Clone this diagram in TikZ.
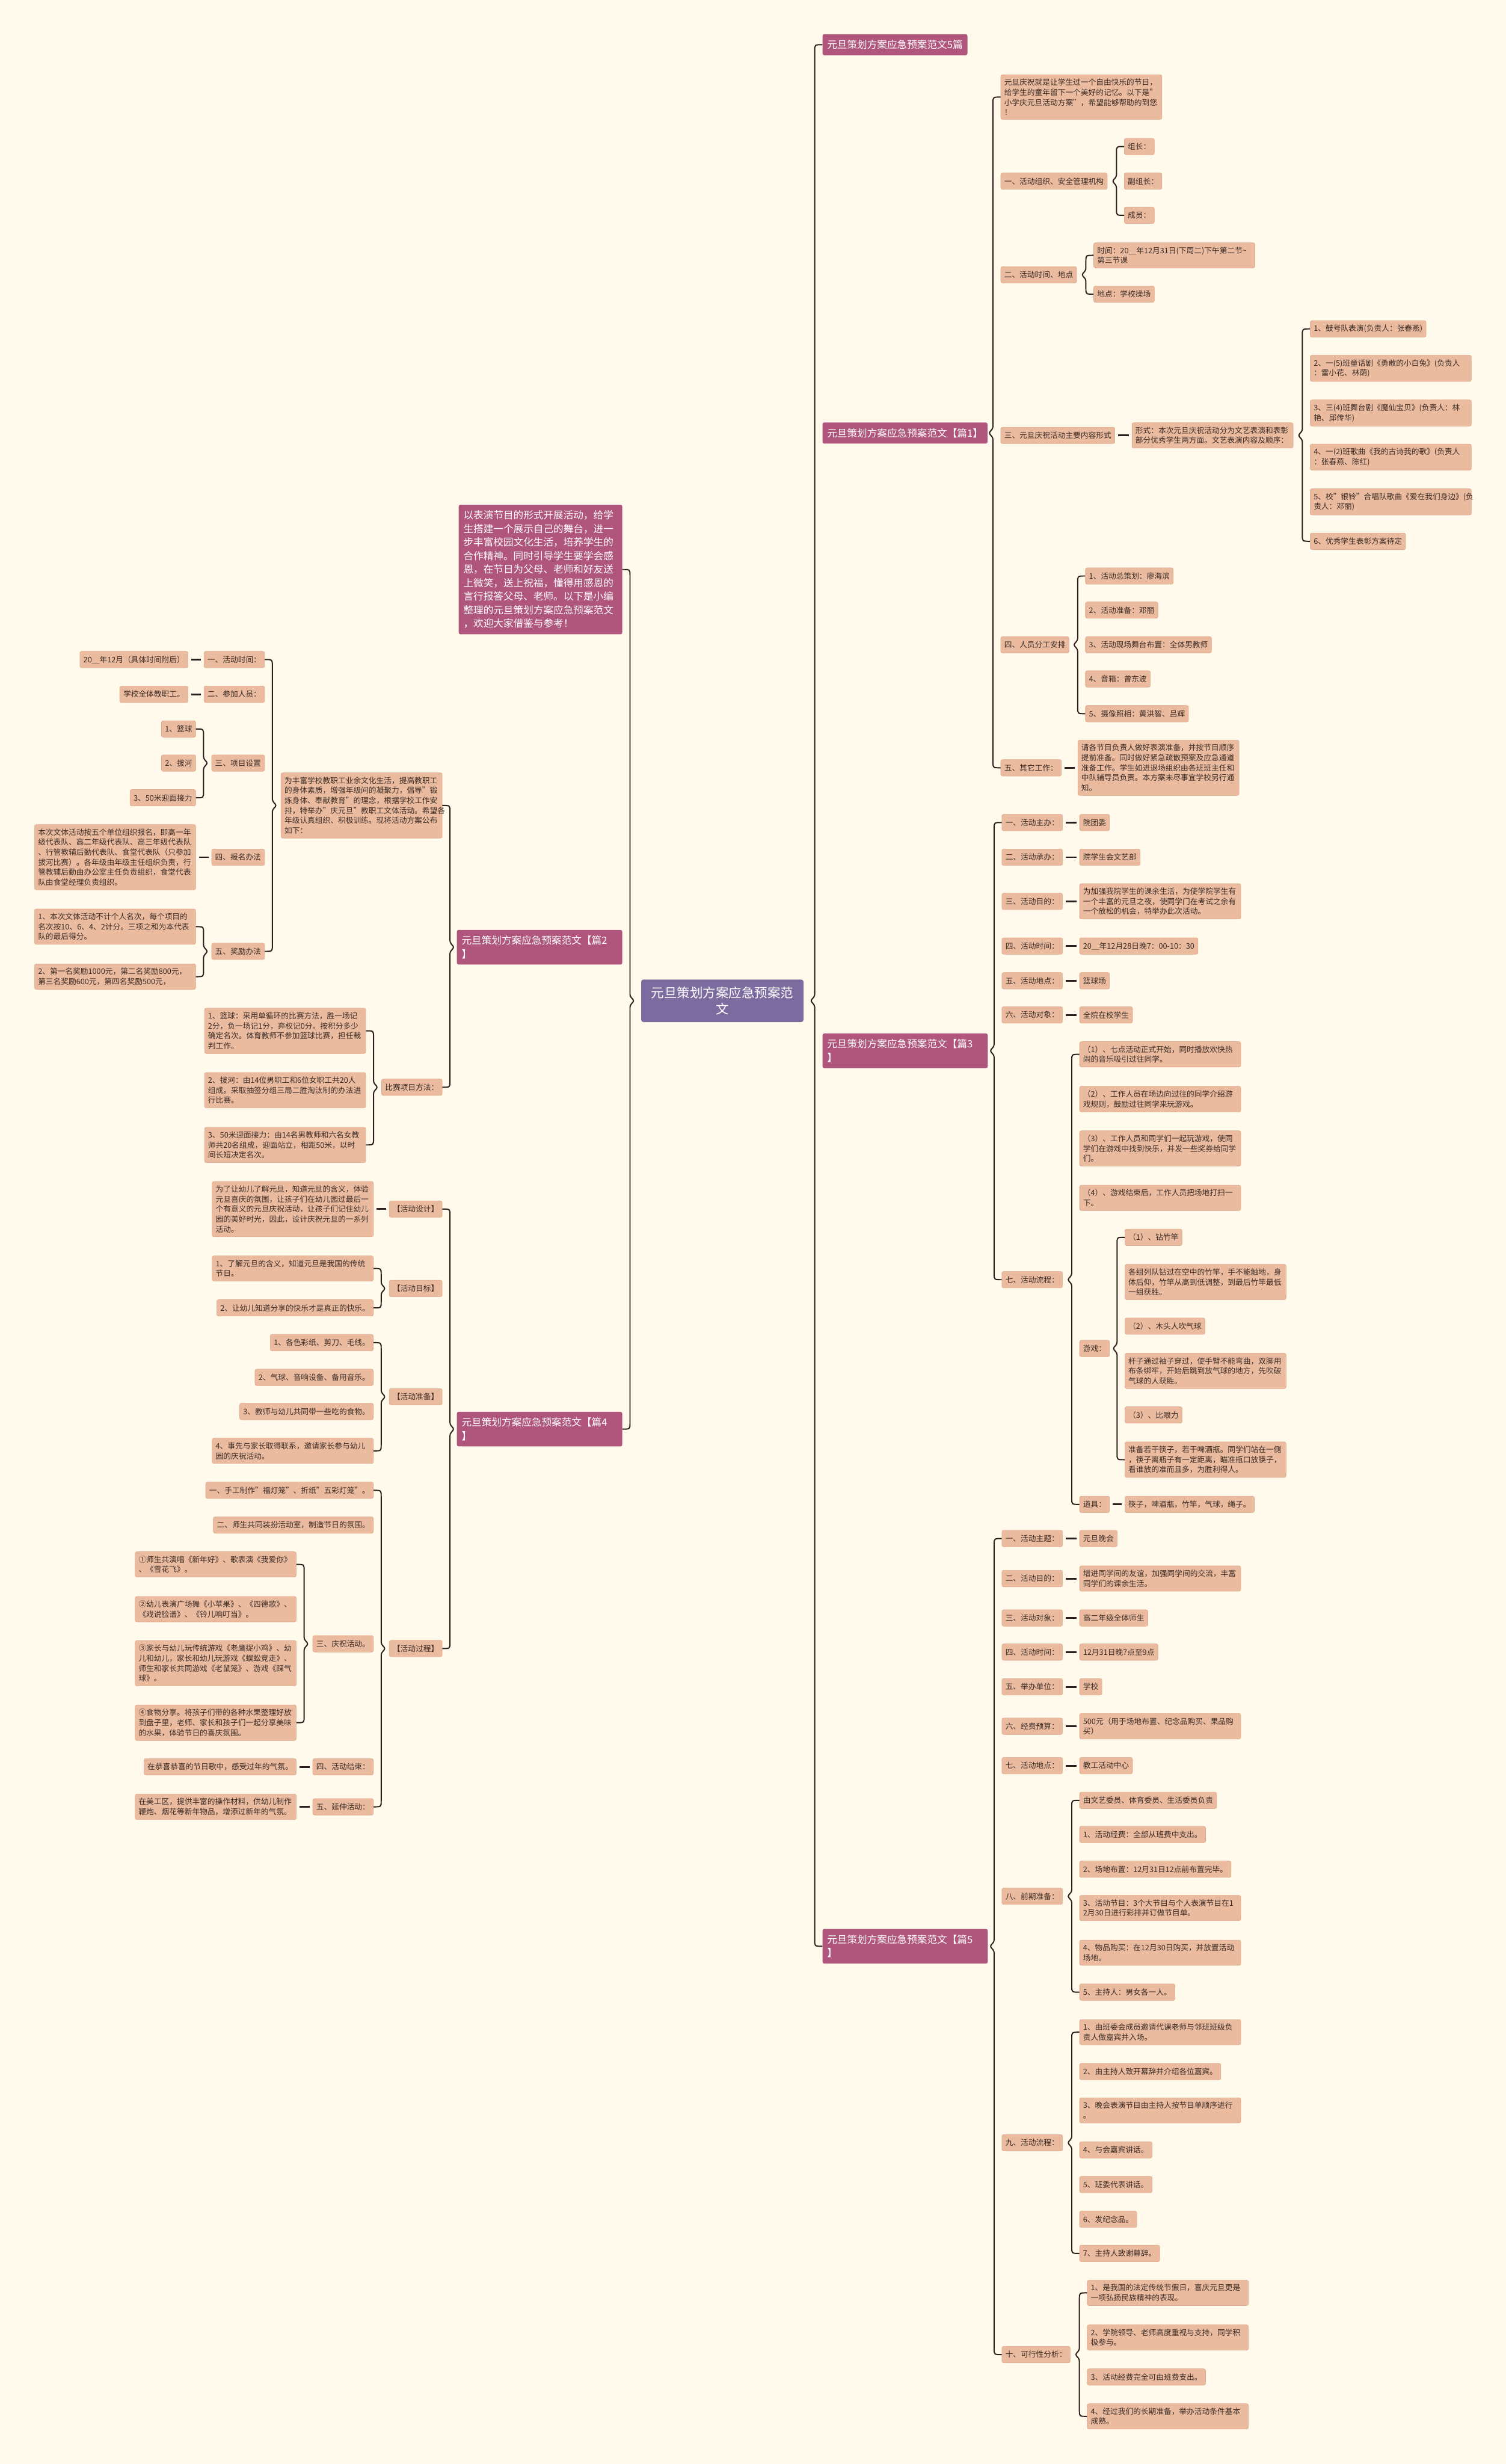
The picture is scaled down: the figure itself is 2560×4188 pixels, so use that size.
\documentclass[tikz,border=0pt]{standalone}
\usepackage{fontspec}
\setmainfont{Noto Sans CJK SC}
\usetikzlibrary{calc}
\definecolor{Cream}{HTML}{FFFAEB}
\definecolor{Peach}{HTML}{EBBBA0}
\definecolor{PeachEdge}{HTML}{E0A98B}
\definecolor{Mauve}{HTML}{B0557C}
\definecolor{Plum}{HTML}{7B6B9E}
\definecolor{Ink}{HTML}{2D1E1E}
\definecolor{Words}{HTML}{3A2C25}
\newcommand{\bracer}[3]{%
  \draw[link] (#2.west) .. controls ($(#2.west)+(-13,0)$) .. ($(#2.west)+(-13,13)$)
    -- ($(#2.west|-#1.east)+(-13,-8)$) -- ($(#2.west|-#1.east)+(-20,0)$)
    -- ($(#2.west|-#1.east)+(-13,8)$) -- ($(#3.west)+(-13,-13)$)
    .. controls ($(#3.west)+(-13,0)$) .. (#3.west);}
\newcommand{\bracel}[3]{%
  \draw[link] (#2.east) .. controls ($(#2.east)+(13,0)$) .. ($(#2.east)+(13,13)$)
    -- ($(#2.east|-#1.west)+(13,-8)$) -- ($(#2.east|-#1.west)+(20,0)$)
    -- ($(#2.east|-#1.west)+(13,8)$) -- ($(#3.east)+(13,-13)$)
    .. controls ($(#3.east)+(13,0)$) .. (#3.east);}

\begin{document}
\begin{tikzpicture}[x=1pt,y=-1pt,
  hub/.style={rounded corners=4pt,fill=Plum,text=white,font=\fontsize{22}{28}\selectfont,align=center,inner xsep=17pt,inner ysep=12pt},
  part/.style={rounded corners=3pt,fill=Mauve,text=white,font=\fontsize{17}{23}\selectfont,align=left,inner xsep=8pt,inner ysep=10pt},
  leaf/.style={rounded corners=3pt,fill=Peach,draw=PeachEdge,line width=0.6pt,text=Words,font=\fontsize{13}{17}\selectfont,align=left,inner xsep=6pt,inner ysep=7pt,minimum height=28pt},
  wrap/.style={text width=262pt},
  rgt/.style={anchor=west},
  lft/.style={anchor=east},
  link/.style={draw=Ink,line width=2pt,rounded corners=3pt},
  tick/.style={draw=Ink,line width=3pt,shorten <=5pt,shorten >=5pt}
]
\fill[Cream] (0,0) rectangle (2560,4188);

\node[hub] (root) at (1228,1701) {元旦策划方案应急预案范\\文};

\node[part,rgt] (p5t) at (1398,76) {元旦策划方案应急预案范文5篇};
\node[part,rgt] (p1) at (1398,736) {元旦策划方案应急预案范文【篇1】};
\node[part,rgt,text width=265pt] (p3) at (1398,1786) {元旦策划方案应急预案范文【篇3\\】};
\node[part,rgt,text width=265pt] (p5) at (1398,3308) {元旦策划方案应急预案范文【篇5\\】};
\node[part,lft,text width=262pt] (intro) at (1058,968) {以表演节目的形式开展活动，给学\\生搭建一个展示自己的舞台，进一\\步丰富校园文化生活，培养学生的\\合作精神。同时引导学生要学会感\\恩，在节日为父母、老师和好友送\\上微笑，送上祝福，懂得用感恩的\\言行报答父母、老师。以下是小编\\整理的元旦策划方案应急预案范文\\，欢迎大家借鉴与参考！};
\node[part,lft,text width=265pt] (p2) at (1058,1610) {元旦策划方案应急预案范文【篇2\\】};
\node[part,lft,text width=265pt] (p4) at (1058,2429) {元旦策划方案应急预案范文【篇4\\】};

\node[leaf,rgt,wrap] (p1intro) at (1701,165) {元旦庆祝就是让学生过一个自由快乐的节日，\\给学生的童年留下一个美好的记忆。以下是"\\小学庆元旦活动方案"，希望能够帮助的到您\\！};
\node[leaf,rgt] (p1org) at (1701,308) {一、活动组织、安全管理机构};
\node[leaf,rgt] (p1lead) at (1911,249) {组长：};
\node[leaf,rgt] (p1vice) at (1911,308) {副组长：};
\node[leaf,rgt] (p1crew) at (1911,366) {成员：};
\node[leaf,rgt] (p1when) at (1701,467) {二、活动时间、地点};
\node[leaf,rgt,wrap] (p1date) at (1859,434) {时间：20＿年12月31日(下周二)下午第二节\textasciitilde\\第三节课};
\node[leaf,rgt] (p1site) at (1859,500) {地点：学校操场};
\node[leaf,rgt] (p1form) at (1701,740) {三、元旦庆祝活动主要内容形式};
\node[leaf,rgt,wrap] (p1style) at (1924,740) {形式：本次元旦庆祝活动分为文艺表演和表彰\\部分优秀学生两方面。文艺表演内容及顺序：};
\node[leaf,rgt] (p1show1) at (2227,559) {1、鼓号队表演(负责人：张春燕)};
\node[leaf,rgt,wrap] (p1show2) at (2227,626) {2、一(5)班童话剧《勇敢的小白兔》(负责人\\：雷小花、林荫)};
\node[leaf,rgt,wrap] (p1show3) at (2227,702) {3、三(4)班舞台剧《魔仙宝贝》(负责人：林\\艳、邱传华)};
\node[leaf,rgt,wrap] (p1show4) at (2227,777) {4、一(2)班歌曲《我的古诗我的歌》(负责人\\：张春燕、陈红)};
\node[leaf,rgt,wrap] (p1show5) at (2227,853) {5、校"银铃"合唱队歌曲《爱在我们身边》(负\\责人：邓丽)};
\node[leaf,rgt] (p1show6) at (2227,920) {6、优秀学生表彰方案待定};
\node[leaf,rgt] (p1staff) at (1701,1096) {四、人员分工安排};
\node[leaf,rgt] (p1job1) at (1845,979) {1、活动总策划：廖海滨};
\node[leaf,rgt] (p1job2) at (1845,1037) {2、活动准备：邓丽};
\node[leaf,rgt] (p1job3) at (1845,1096) {3、活动现场舞台布置：全体男教师};
\node[leaf,rgt] (p1job4) at (1845,1154) {4、音箱：曾东波};
\node[leaf,rgt] (p1job5) at (1845,1213) {5、摄像照相：黄洪智、吕辉};
\node[leaf,rgt] (p1else) at (1701,1305) {五、其它工作：};
\node[leaf,rgt,wrap] (p1note) at (1832,1305) {请各节目负责人做好表演准备，并按节目顺序\\提前准备。同时做好紧急疏散预案及应急通道\\准备工作。学生如进退场组织由各班班主任和\\中队辅导员负责。本方案未尽事宜学校另行通\\知。};

\node[leaf,rgt] (p3host) at (1703,1398) {一、活动主办：};
\node[leaf,rgt] (p3hostv) at (1835,1398) {院团委};
\node[leaf,rgt] (p3org) at (1703,1457) {二、活动承办：};
\node[leaf,rgt] (p3orgv) at (1835,1457) {院学生会文艺部};
\node[leaf,rgt] (p3aim) at (1703,1532) {三、活动目的：};
\node[leaf,rgt,wrap] (p3aimv) at (1835,1532) {为加强我院学生的课余生活，为使学院学生有\\一个丰富的元旦之夜，使同学门在考试之余有\\一个放松的机会，特举办此次活动。};
\node[leaf,rgt] (p3time) at (1703,1608) {四、活动时间：};
\node[leaf,rgt] (p3timev) at (1835,1608) {20＿年12月28日晚7：00-10：30};
\node[leaf,rgt] (p3site) at (1703,1667) {五、活动地点：};
\node[leaf,rgt] (p3sitev) at (1835,1667) {篮球场};
\node[leaf,rgt] (p3who) at (1703,1725) {六、活动对象：};
\node[leaf,rgt] (p3whov) at (1835,1725) {全院在校学生};
\node[leaf,rgt] (p3flow) at (1703,2175) {七、活动流程：};
\node[leaf,rgt,wrap] (p3step1) at (1835,1792) {（1）、七点活动正式开始，同时播放欢快热\\闹的音乐吸引过往同学。};
\node[leaf,rgt,wrap] (p3step2) at (1835,1868) {（2）、工作人员在场边向过往的同学介绍游\\戏规则，鼓励过往同学来玩游戏。};
\node[leaf,rgt,wrap] (p3step3) at (1835,1952) {（3）、工作人员和同学们一起玩游戏，使同\\学们在游戏中找到快乐，并发一些奖券给同学\\们。};
\node[leaf,rgt,wrap] (p3step4) at (1835,2036) {（4）、游戏结束后，工作人员把场地打扫一\\下。};
\node[leaf,rgt] (p3game) at (1835,2292) {游戏：};
\node[leaf,rgt] (p3g1) at (1912,2103) {（1）、钻竹竿};
\node[leaf,rgt,wrap] (p3g1v) at (1912,2179) {各组列队钻过在空中的竹竿，手不能触地，身\\体后仰，竹竿从高到低调整，到最后竹竿最低\\一组获胜。};
\node[leaf,rgt] (p3g2) at (1912,2254) {（2）、木头人吹气球};
\node[leaf,rgt,wrap] (p3g2v) at (1912,2330) {杆子通过袖子穿过，使手臂不能弯曲，双脚用\\布条绑牢，开始后跳到放气球的地方，先吹破\\气球的人获胜。};
\node[leaf,rgt] (p3g3) at (1912,2405) {（3）、比眼力};
\node[leaf,rgt,wrap] (p3g3v) at (1912,2481) {准备若干筷子，若干啤酒瓶。同学们站在一侧\\，筷子离瓶子有一定距离，瞄准瓶口放筷子，\\看谁放的准而且多，为胜利得人。};
\node[leaf,rgt] (p3tool) at (1835,2557) {道具：};
\node[leaf,rgt] (p3toolv) at (1912,2557) {筷子，啤酒瓶，竹竿，气球，绳子。};

\node[leaf,rgt] (p5theme) at (1703,2615) {一、活动主题：};
\node[leaf,rgt] (p5themev) at (1835,2615) {元旦晚会};
\node[leaf,rgt] (p5aim) at (1703,2683) {二、活动目的：};
\node[leaf,rgt,wrap] (p5aimv) at (1835,2683) {增进同学间的友谊，加强同学间的交流，丰富\\同学们的课余生活。};
\node[leaf,rgt] (p5who) at (1703,2750) {三、活动对象：};
\node[leaf,rgt] (p5whov) at (1835,2750) {高二年级全体师生};
\node[leaf,rgt] (p5time) at (1703,2808) {四、活动时间：};
\node[leaf,rgt] (p5timev) at (1835,2808) {12月31日晚7点至9点};
\node[leaf,rgt] (p5unit) at (1703,2867) {五、举办单位：};
\node[leaf,rgt] (p5unitv) at (1835,2867) {学校};
\node[leaf,rgt] (p5cost) at (1703,2934) {六、经费预算：};
\node[leaf,rgt,wrap] (p5costv) at (1835,2934) {500元（用于场地布置、纪念品购买、果品购\\买）};
\node[leaf,rgt] (p5site) at (1703,3001) {七、活动地点：};
\node[leaf,rgt] (p5sitev) at (1835,3001) {教工活动中心};
\node[leaf,rgt] (p5prep) at (1703,3223) {八、前期准备：};
\node[leaf,rgt] (p5prep0) at (1835,3060) {由文艺委员、体育委员、生活委员负责};
\node[leaf,rgt] (p5prep1) at (1835,3118) {1、活动经费：全部从班费中支出。};
\node[leaf,rgt] (p5prep2) at (1835,3177) {2、场地布置：12月31日12点前布置完毕。};
\node[leaf,rgt,wrap] (p5prep3) at (1835,3243) {3、活动节目：3个大节目与个人表演节目在1\\2月30日进行彩排并订做节目单。};
\node[leaf,rgt,wrap] (p5prep4) at (1835,3319) {4、物品购买：在12月30日购买，并放置活动\\场地。};
\node[leaf,rgt] (p5prep5) at (1835,3386) {5、主持人：男女各一人。};
\node[leaf,rgt] (p5flow) at (1703,3642) {九、活动流程：};
\node[leaf,rgt,wrap] (p5flow1) at (1835,3454) {1、由班委会成员邀请代课老师与邻班班级负\\责人做嘉宾并入场。};
\node[leaf,rgt] (p5flow2) at (1835,3521) {2、由主持人致开幕辞并介绍各位嘉宾。};
\node[leaf,rgt,wrap] (p5flow3) at (1835,3587) {3、晚会表演节目由主持人按节目单顺序进行\\。};
\node[leaf,rgt] (p5flow4) at (1835,3654) {4、与会嘉宾讲话。};
\node[leaf,rgt] (p5flow5) at (1835,3713) {5、班委代表讲话。};
\node[leaf,rgt] (p5flow6) at (1835,3772) {6、发纪念品。};
\node[leaf,rgt] (p5flow7) at (1835,3830) {7、主持人致谢幕辞。};
\node[leaf,rgt] (p5can) at (1703,4002) {十、可行性分析：};
\node[leaf,rgt,wrap] (p5can1) at (1848,3897) {1、是我国的法定传统节假日，喜庆元旦更是\\一项弘扬民族精神的表现。};
\node[leaf,rgt,wrap] (p5can2) at (1848,3973) {2、学院领导、老师高度重视与支持，同学积\\极参与。};
\node[leaf,rgt] (p5can3) at (1848,4040) {3、活动经费完全可由班费支出。};
\node[leaf,rgt,wrap] (p5can4) at (1848,4107) {4、经过我们的长期准备，举办活动条件基本\\成熟。};

\node[leaf,lft,wrap] (p2intro) at (752,1369) {为丰富学校教职工业余文化生活，提高教职工\\的身体素质，增强年级间的凝聚力，倡导"锻\\炼身体、奉献教育"的理念，根据学校工作安\\排，特举办"庆元旦"教职工文体活动。希望各\\年级认真组织、积极训练。现将活动方案公布\\如下：};
\node[leaf,lft] (p2time) at (450,1121) {一、活动时间：};
\node[leaf,lft] (p2timev) at (320,1121) {20＿年12月（具体时间附后）};
\node[leaf,lft] (p2who) at (450,1180) {二、参加人员：};
\node[leaf,lft] (p2whov) at (320,1180) {学校全体教职工。};
\node[leaf,lft] (p2item) at (450,1297) {三、项目设置};
\node[leaf,lft] (p2item1) at (333,1239) {1、篮球};
\node[leaf,lft] (p2item2) at (333,1297) {2、拔河};
\node[leaf,lft] (p2item3) at (333,1356) {3、50米迎面接力};
\node[leaf,lft] (p2sign) at (450,1457) {四、报名办法};
\node[leaf,lft,wrap] (p2signv) at (333,1457) {本次文体活动按五个单位组织报名，即高一年\\级代表队、高二年级代表队、高三年级代表队\\、行管教辅后勤代表队、食堂代表队（只参加\\拔河比赛）。各年级由年级主任组织负责，行\\管教辅后勤由办公室主任负责组织，食堂代表\\队由食堂经理负责组织。};
\node[leaf,lft] (p2prize) at (450,1617) {五、奖励办法};
\node[leaf,lft,wrap] (p2prize1) at (333,1575) {1、本次文体活动不计个人名次，每个项目的\\名次按10、6、4、2计分。三项之和为本代表\\队的最后得分。};
\node[leaf,lft,wrap] (p2prize2) at (333,1660) {2、第一名奖励1000元，第二名奖励800元，\\第三名奖励600元，第四名奖励500元，};
\node[leaf,lft] (p2rule) at (752,1848) {比赛项目方法：};
\node[leaf,lft,wrap] (p2rule1) at (622,1752) {1、篮球：采用单循环的比赛方法，胜一场记\\2分，负一场记1分，弃权记0分。按积分多少\\确定名次。体育教师不参加篮球比赛，担任裁\\判工作。};
\node[leaf,lft,wrap] (p2rule2) at (622,1853) {2、拔河：由14位男职工和6位女职工共20人\\组成。采取抽签分组三局二胜淘汰制的办法进\\行比赛。};
\node[leaf,lft,wrap] (p2rule3) at (622,1946) {3、50米迎面接力：由14名男教师和六名女教\\师共20名组成，迎面站立，相距50米，以时\\间长短决定名次。};

\node[leaf,lft] (p4plan) at (752,2055) {【活动设计】};
\node[leaf,lft,wrap] (p4planv) at (635,2055) {为了让幼儿了解元旦，知道元旦的含义，体验\\元旦喜庆的氛围，让孩子们在幼儿园过最后一\\个有意义的元旦庆祝活动，让孩子们记住幼儿\\园的美好时光，因此，设计庆祝元旦的一系列\\活动。};
\node[leaf,lft] (p4goal) at (752,2190) {【活动目标】};
\node[leaf,lft,wrap] (p4goal1) at (635,2156) {1、了解元旦的含义，知道元旦是我国的传统\\节日。};
\node[leaf,lft] (p4goal2) at (635,2223) {2、让幼儿知道分享的快乐才是真正的快乐。};
\node[leaf,lft] (p4prep) at (752,2374) {【活动准备】};
\node[leaf,lft] (p4prep1) at (635,2282) {1、各色彩纸、剪刀、毛线。};
\node[leaf,lft] (p4prep2) at (635,2341) {2、气球、音响设备、备用音乐。};
\node[leaf,lft] (p4prep3) at (635,2399) {3、教师与幼儿共同带一些吃的食物。};
\node[leaf,lft,wrap] (p4prep4) at (635,2466) {4、事先与家长取得联系，邀请家长参与幼儿\\园的庆祝活动。};
\node[leaf,lft] (p4step) at (752,2802) {【活动过程】};
\node[leaf,lft] (p4step1) at (635,2533) {一、手工制作"福灯笼"、折纸"五彩灯笼"。};
\node[leaf,lft] (p4step2) at (635,2592) {二、师生共同装扮活动室，制造节日的氛围。};
\node[leaf,lft] (p4step3) at (635,2794) {三、庆祝活动。};
\node[leaf,lft,wrap] (p4show1) at (504,2659) {①师生共演唱《新年好》、歌表演《我爱你》\\、《雪花飞》。};
\node[leaf,lft,wrap] (p4show2) at (504,2735) {②幼儿表演广场舞《小苹果》、《四德歌》、\\《戏说脸谱》、《铃儿响叮当》。};
\node[leaf,lft,wrap] (p4show3) at (504,2827) {③家长与幼儿玩传统游戏《老鹰捉小鸡》、幼\\儿和幼儿，家长和幼儿玩游戏《蜈蚣竞走》、\\师生和家长共同游戏《老鼠笼》、游戏《踩气\\球》。};
\node[leaf,lft,wrap] (p4show4) at (504,2928) {④食物分享。将孩子们带的各种水果整理好放\\到盘子里，老师、家长和孩子们一起分享美味\\的水果，体验节日的喜庆氛围。};
\node[leaf,lft] (p4step4) at (635,3003) {四、活动结束：};
\node[leaf,lft] (p4end) at (504,3003) {在恭喜恭喜的节日歌中，感受过年的气氛。};
\node[leaf,lft] (p4step5) at (635,3071) {五、延伸活动：};
\node[leaf,lft,wrap] (p4more) at (504,3071) {在美工区，提供丰富的操作材料，供幼儿制作\\鞭炮、烟花等新年物品，增添过新年的气氛。};

\bracer{root}{p5t}{p5}
\bracel{root}{intro}{p4}
\bracer{p1}{p1intro}{p1else}
\bracer{p1org}{p1lead}{p1crew}
\bracer{p1when}{p1date}{p1site}
\draw[tick] (p1form) -- (p1style);
\bracer{p1style}{p1show1}{p1show6}
\bracer{p1staff}{p1job1}{p1job5}
\draw[tick] (p1else) -- (p1note);
\bracer{p3}{p3host}{p3flow}
\draw[tick] (p3host) -- (p3hostv);
\draw[tick] (p3org) -- (p3orgv);
\draw[tick] (p3aim) -- (p3aimv);
\draw[tick] (p3time) -- (p3timev);
\draw[tick] (p3site) -- (p3sitev);
\draw[tick] (p3who) -- (p3whov);
\bracer{p3flow}{p3step1}{p3tool}
\bracer{p3game}{p3g1}{p3g3v}
\draw[tick] (p3tool) -- (p3toolv);
\bracer{p5}{p5theme}{p5can}
\draw[tick] (p5theme) -- (p5themev);
\draw[tick] (p5aim) -- (p5aimv);
\draw[tick] (p5who) -- (p5whov);
\draw[tick] (p5time) -- (p5timev);
\draw[tick] (p5unit) -- (p5unitv);
\draw[tick] (p5cost) -- (p5costv);
\draw[tick] (p5site) -- (p5sitev);
\bracer{p5prep}{p5prep0}{p5prep5}
\bracer{p5flow}{p5flow1}{p5flow7}
\bracer{p5can}{p5can1}{p5can4}
\bracel{p2}{p2intro}{p2rule}
\bracel{p2intro}{p2time}{p2prize}
\draw[tick] (p2time) -- (p2timev);
\draw[tick] (p2who) -- (p2whov);
\bracel{p2item}{p2item1}{p2item3}
\draw[tick] (p2sign) -- (p2signv);
\bracel{p2prize}{p2prize1}{p2prize2}
\bracel{p2rule}{p2rule1}{p2rule3}
\bracel{p4}{p4plan}{p4step}
\draw[tick] (p4plan) -- (p4planv);
\bracel{p4goal}{p4goal1}{p4goal2}
\bracel{p4prep}{p4prep1}{p4prep4}
\bracel{p4step}{p4step1}{p4step5}
\bracel{p4step3}{p4show1}{p4show4}
\draw[tick] (p4step4) -- (p4end);
\draw[tick] (p4step5) -- (p4more);
\end{tikzpicture}
\end{document}
